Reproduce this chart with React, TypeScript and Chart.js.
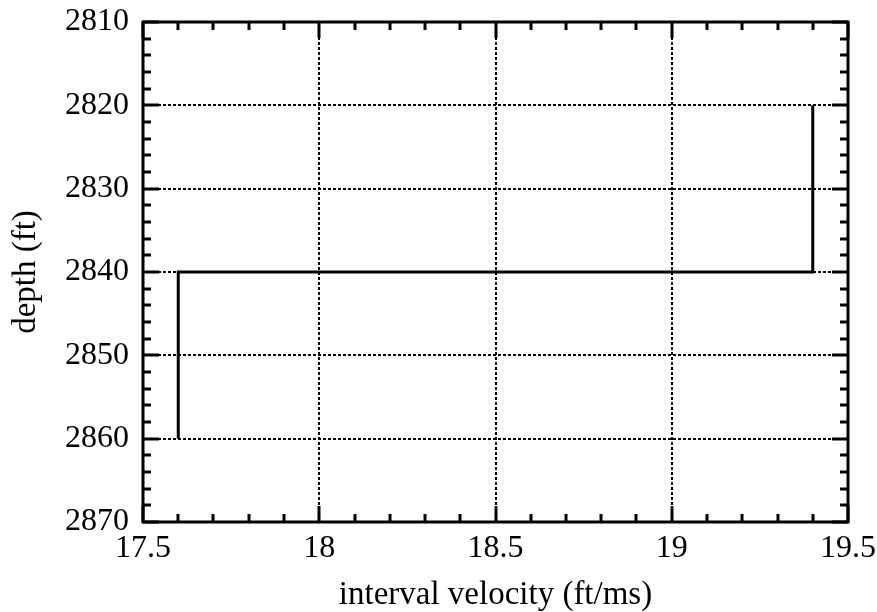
import React, { useEffect, useRef } from "react";
import { Chart, registerables } from "chart.js";

Chart.register(...registerables);

const velocity = [19.4, 19.4, 17.6, 17.6];
const depth = [2820, 2840, 2840, 2860];
const xMajorTicks = [17.5, 18, 18.5, 19, 19.5];
const yMajorTicks = [2810, 2820, 2830, 2840, 2850, 2860, 2870];
const xMinorStep = 0.1;
const yMinorStep = 2;
const xTitle = "interval velocity (ft/ms)";
const yTitle = "depth (ft)";

const FONT = "'Liberation Serif', 'Times New Roman', serif";

const framePlugin = {
  id: "frameTicks",
  afterDraw(chart: any) {
    const { ctx, chartArea: a, scales } = chart;
    const xs = scales.x;
    const ys = scales.y;
    ctx.save();
    ctx.strokeStyle = "#000";
    ctx.lineWidth = 3;
    ctx.lineCap = "butt";
    const majLen = 16;
    const minLen = 8;
    const xMin = xMajorTicks[0];
    const xMax = xMajorTicks[xMajorTicks.length - 1];
    const nx = Math.round((xMax - xMin) / xMinorStep);
    for (let i = 0; i <= nx; i++) {
      const v = xMin + i * xMinorStep;
      const isMaj = xMajorTicks.some((m) => Math.abs(m - v) < 1e-6);
      const len = isMaj ? majLen : minLen;
      const px = Math.round(xs.getPixelForValue(v));
      ctx.beginPath();
      ctx.moveTo(px, a.bottom);
      ctx.lineTo(px, a.bottom - len);
      ctx.moveTo(px, a.top);
      ctx.lineTo(px, a.top + len);
      ctx.stroke();
    }
    const yMin = yMajorTicks[0];
    const yMax = yMajorTicks[yMajorTicks.length - 1];
    const ny = Math.round((yMax - yMin) / yMinorStep);
    for (let i = 0; i <= ny; i++) {
      const v = yMin + i * yMinorStep;
      const isMaj = yMajorTicks.some((m) => Math.abs(m - v) < 1e-6);
      const len = isMaj ? majLen : minLen;
      const py = Math.round(ys.getPixelForValue(v));
      ctx.beginPath();
      ctx.moveTo(a.left, py);
      ctx.lineTo(a.left + len, py);
      ctx.moveTo(a.right, py);
      ctx.lineTo(a.right - len, py);
      ctx.stroke();
    }
    ctx.strokeRect(a.left, a.top, a.right - a.left, a.bottom - a.top);
    ctx.restore();
  },
};

export default function App() {
  const ref = useRef<HTMLCanvasElement>(null);
  useEffect(() => {
    document.body.style.margin = "0";
    const chart = new Chart(ref.current!, {
      type: "scatter",
      data: {
        datasets: [
          {
            data: velocity.map((v, i) => ({ x: v, y: depth[i] })),
            showLine: true,
            borderColor: "#000",
            borderWidth: 3,
            pointRadius: 0,
            fill: false,
          },
        ],
      },
      options: {
        animation: false,
        responsive: false,
        maintainAspectRatio: false,
        layout: { padding: { top: 22, right: 29, left: 0, bottom: 0 } },
        plugins: { legend: { display: false }, tooltip: { enabled: false } },
        scales: {
          x: {
            type: "linear",
            min: 17.5,
            max: 19.5,
            afterBuildTicks: (s: any) => {
              s.ticks = xMajorTicks.map((v) => ({ value: v }));
            },
            afterFit: (s: any) => {
              s.height = 90;
              s.paddingLeft = 0;
              s.paddingRight = 0;
            },
            ticks: {
              color: "#000",
              font: { family: FONT, size: 32 },
              padding: 7,
              maxRotation: 0,
              callback: (v: any) => String(v),
            },
            grid: {
              color: "#000",
              lineWidth: 2,
              drawTicks: false,
            },
            border: { display: false, dash: [3, 2] },
            title: {
              display: true,
              text: xTitle,
              color: "#000",
              font: { family: FONT, size: 33 },
              padding: { top: 0, bottom: -3 },
            },
          },
          y: {
            type: "linear",
            reverse: true,
            min: 2810,
            max: 2870,
            afterBuildTicks: (s: any) => {
              s.ticks = yMajorTicks.map((v) => ({ value: v }));
            },
            afterFit: (s: any) => {
              s.width = 143;
              s.paddingTop = 0;
              s.paddingBottom = 0;
            },
            ticks: {
              color: "#000",
              font: { family: FONT, size: 32 },
              padding: 14,
              callback: (v: any) => String(v),
            },
            grid: {
              color: "#000",
              lineWidth: 2,
              drawTicks: false,
            },
            border: { display: false, dash: [3, 2] },
            title: {
              display: true,
              text: yTitle,
              color: "#000",
              font: { family: FONT, size: 33 },
              padding: { top: 7, bottom: 0 },
            },
          },
        },
      },
      plugins: [framePlugin],
    } as any);
    return () => chart.destroy();
  }, []);
  return (
    <div style={{ position: "absolute", left: 0, top: 0, width: 877, height: 612, background: "#fff" }}>
      <canvas ref={ref} width={877} height={612} style={{ display: "block" }} />
    </div>
  );
}
